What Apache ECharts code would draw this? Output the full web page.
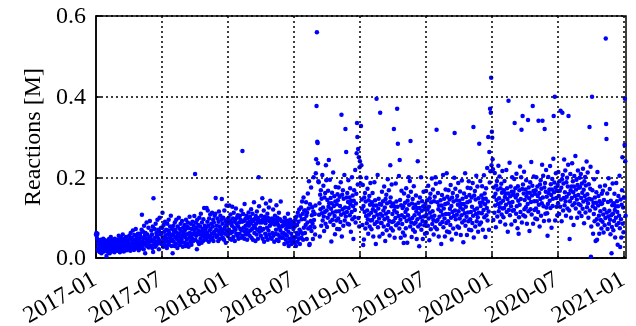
<!DOCTYPE html>
<html><head><meta charset="utf-8">
<script src="https://cdn.jsdelivr.net/npm/echarts@6/dist/echarts.min.js"></script>
<style>html,body{margin:0;padding:0;background:#fff}#c{width:636px;height:326px}</style>
</head><body><div id="c"></div>
<script>
// Daily reactions (thousands), starting 2017-01-01, one value per day
const startDate = '2017-01-01';
const y2017 = [
58,62,55,48,60,22,35,18,42,28,15,38,25,45,30,12,33,40,20,27,48,31,16,36,24,44,29,19,37,5,34,
26,41,15,33,22,47,30,12,38,25,52,19,35,28,44,17,31,40,23,36,14,48,27,33,20,42,30,24,
35,18,46,28,55,22,39,14,42,31,25,50,20,37,29,58,24,43,16,34,47,27,38,21,52,30,19,44,33,26,41,
40,22,55,31,47,18,62,35,28,50,24,44,68,30,38,20,57,33,46,26,72,36,25,52,41,29,60,34,19,48,
45,28,60,36,52,24,70,107,40,31,65,48,22,80,38,55,12,62,33,47,88,29,58,42,35,75,26,50,40,92,44,
52,30,68,41,58,25,78,15,148,45,35,72,50,28,85,40,62,33,55,95,38,70,47,22,65,100,42,58,36,75,
60,35,75,112,50,28,82,45,65,38,90,55,30,70,48,25,85,58,40,68,95,33,62,50,78,42,105,55,30,72,46,
12,58,80,40,65,30,88,52,70,35,95,48,62,25,78,55,42,100,60,32,72,50,85,38,66,45,92,55,28,75,58,
65,38,82,52,70,30,95,58,45,78,35,88,60,28,74,50,102,62,40,85,55,33,72,48,90,58,42,80,62,104,
70,208,45,88,55,75,22,95,62,40,82,68,35,100,58,78,48,110,65,38,88,55,72,42,96,62,124,50,80,70,58,
75,45,124,62,90,118,52,80,40,98,68,55,108,72,46,85,60,112,50,78,95,42,88,65,105,58,110,149,70,52,
80,55,98,68,42,90,115,62,78,48,105,72,58,95,146,65,85,50,100,70,45,118,75,60,92,38,82,130,68,96,55
];
const y2018 = [
85,58,100,70,130,48,92,108,62,88,45,80,127,65,98,52,112,75,90,42,95,70,123,60,85,100,55,106,78,48,102,
88,60,105,72,95,50,118,68,90,265,55,109,75,92,48,134,65,97,80,58,105,70,45,87,99,62,113,80,
90,55,102,68,86,121,50,95,72,110,45,92,80,138,62,97,75,42,104,85,58,115,70,93,48,99,200,128,65,88,75,
92,55,105,68,88,148,48,96,72,118,40,90,102,60,86,135,52,94,75,110,45,99,68,125,58,91,80,142,50,97,
85,48,98,62,88,120,55,92,40,83,105,60,95,70,131,45,89,100,58,82,42,112,75,52,96,68,140,50,91,78,60,
80,50,90,62,82,35,100,58,86,45,72,93,55,80,38,110,65,30,88,48,76,95,42,84,60,35,90,52,78,40,
72,45,85,38,78,95,52,30,102,62,82,40,112,58,90,48,120,70,35,105,65,125,50,96,140,60,110,45,150,75,118,
97,62,118,82,138,105,47,112,88,160,73,123,190,32,35,133,77,92,175,67,106,126,85,47,115,200,94,76,109,58,130,
210,245,377,560,288,285,235,190,188,107,136,53,157,121,168,80,147,111,206,93,125,179,103,67,150,114,161,85,230,193,
118,77,144,100,167,127,243,136,108,194,90,149,122,41,136,162,95,113,212,82,129,153,104,59,140,176,115,93,133,72,158,
143,98,175,116,71,152,129,89,188,107,355,53,157,121,168,80,147,111,206,93,125,320,103,263,150,114,161,85,139,193,
124,83,150,106,173,133,65,142,114,200,96,155,128,47,142,168,101,119,218,88,135,159,260,335,300,182,270,99,250,78,225
];
const y2019 = [
240,200,185,327,230,145,122,82,181,32,129,46,150,114,161,73,140,104,199,86,118,172,96,60,143,107,154,78,132,186,93,
112,71,138,94,161,121,53,130,102,188,84,143,116,35,130,395,89,107,206,76,123,147,98,53,134,360,109,87,
132,87,164,105,60,141,118,78,177,96,125,42,146,110,157,69,136,100,195,82,114,168,92,56,139,230,150,74,128,182,89,
109,68,135,91,320,118,50,127,99,185,81,140,113,370,127,283,86,104,203,73,243,144,95,50,131,167,106,84,124,63,
128,37,160,101,56,137,114,74,173,92,121,38,142,106,153,200,132,96,191,78,290,164,88,52,135,99,146,70,124,178,85,
106,65,132,88,155,115,47,124,96,240,78,137,110,29,124,150,83,101,200,70,117,141,92,47,128,164,103,81,121,60,
134,89,166,107,62,143,120,80,179,98,127,44,148,112,159,71,138,102,197,84,116,170,94,58,141,105,152,76,200,184,91,
318,71,138,94,161,121,53,130,102,188,84,143,116,35,130,156,89,107,206,76,123,147,98,53,134,170,109,87,210,66,152,
136,91,168,109,64,145,122,82,181,100,129,46,150,114,161,73,140,104,199,310,118,172,96,60,143,107,154,78,132,186,
116,75,142,98,165,125,57,134,106,192,88,147,120,39,134,160,93,111,210,80,127,151,102,57,138,174,113,91,190,70,156,
141,96,173,114,69,150,127,87,186,105,325,51,155,119,166,78,145,109,204,91,123,177,101,65,148,112,283,83,137,191,
129,88,155,111,178,138,70,147,119,205,101,160,133,52,147,173,106,124,223,93,140,300,115,70,263,187,370,215,360,447,230
];
const y2020 = [
313,298,245,220,94,175,152,112,211,130,159,76,180,144,191,103,170,134,229,116,148,202,126,90,173,137,184,108,162,216,123,
142,101,168,124,191,151,83,160,132,218,114,173,146,65,160,390,119,137,236,106,153,177,128,83,164,200,139,117,157,
164,119,196,335,92,173,150,110,209,128,157,74,178,142,60,101,168,132,227,114,146,200,318,88,171,352,182,106,160,214,121,
144,103,170,126,193,153,85,162,134,342,116,175,148,67,162,188,121,139,238,108,155,179,377,85,166,202,141,119,159,98,
168,123,200,141,96,177,154,114,340,132,161,78,182,146,193,105,172,136,231,340,150,204,128,92,175,320,186,110,164,218,125,
152,111,55,134,201,161,93,170,142,228,124,183,156,75,170,196,129,147,246,352,163,187,400,93,174,210,149,127,167,106,
181,136,213,154,109,190,167,127,365,145,174,91,195,360,206,118,185,149,244,131,163,217,141,105,188,152,199,123,177,231,352,
159,118,47,141,208,168,100,177,149,235,131,190,163,82,177,203,136,154,253,123,170,194,145,100,181,217,156,134,174,113,199,
176,131,208,149,104,185,162,122,221,140,169,86,190,154,201,113,180,144,239,126,158,212,136,100,183,147,325,118,172,226,
3,78,145,400,168,128,60,137,109,195,91,150,123,42,137,163,96,45,213,83,130,154,105,60,141,177,116,94,134,73,159,
135,90,167,108,63,144,121,81,180,99,544,332,295,113,160,72,139,103,198,85,117,171,95,59,142,106,12,77,131,185,
110,69,136,92,159,119,51,128,100,186,82,141,114,33,128,154,87,105,204,74,27,145,96,51,132,168,250,85,125,64,150
];
const y2021 = [150,280,395,240,105];
const tickLabels = ['2017-01','2017-07','2018-01','2018-07','2019-01','2019-07','2020-01','2020-07','2021-01'];
const yTicks = [0, 0.2, 0.4, 0.6];
const yTitle = 'Reactions [M]';

(function () {
  const DAY = 86400000;
  const t0 = Date.parse(startDate + 'T00:00:00Z');
  const all = y2017.concat(y2018, y2019, y2020, y2021);
  const points = all.map((v, i) => [t0 + i * DAY, v / 1000]);
  const tickVals = tickLabels.map(s => Date.parse(s + '-01T00:00:00Z'));
  const xMin = t0, xMax = Date.parse('2021-01-06T00:00:00Z');

  const FONT = 'Liberation Serif';
  const chart = echarts.init(document.getElementById('c'), null, {renderer: 'canvas'});
  chart.setOption({
    animation: false,
    grid: {left: 96, right: 10, top: 16, bottom: 68, show: true, borderColor: '#000', borderWidth: 1.5, backgroundColor: 'transparent'},
    xAxis: {
      type: 'value', min: xMin, max: xMax,
      axisLine: {show: true, lineStyle: {color: '#000', width: 1.5}},
      axisTick: {show: true, inside: true, length: 5, customValues: tickVals, lineStyle: {color: '#000', width: 1.5}},
      axisLabel: {show: false},
      splitLine: {show: false}
    },
    yAxis: {
      type: 'value', min: 0, max: 0.6, interval: 0.2,
      axisLine: {show: true, lineStyle: {color: '#000', width: 1.5}},
      axisTick: {show: true, inside: true, length: 5, lineStyle: {color: '#000', width: 1.5}},
      axisLabel: {show: false},
      splitLine: {show: true, lineStyle: {color: '#000', type: [2, 3], width: 1.5}}
    },
    series: [{
      type: 'scatter', data: points, symbolSize: 4.5,
      itemStyle: {color: '#0000ff', opacity: 1},
      markLine: {
        silent: true, symbol: 'none', label: {show: false},
        lineStyle: {color: '#000', type: [2, 3], width: 1.5},
        data: tickVals.slice(1).map(v => ({xAxis: v}))
      }
    }]
  });

  // Axis text drawn as ECharts graphic text, placed through the axes' own scales
  const g = [];
  tickVals.forEach((tv, i) => {
    const p = chart.convertToPixel({gridIndex: 0}, [tv, 0]);
    g.push({type: 'text', x: p[0] - 1, y: p[1] + 20, rotation: Math.PI / 6, silent: true,
      style: {text: tickLabels[i], fontFamily: FONT, fontSize: 24, fill: '#000', align: 'right', verticalAlign: 'middle'}});
  });
  yTicks.forEach(v => {
    const p = chart.convertToPixel({gridIndex: 0}, [xMin, v]);
    g.push({type: 'text', x: p[0] - 10, y: p[1] + 1, silent: true,
      style: {text: v.toFixed(1), fontFamily: FONT, fontSize: 24, fill: '#000', align: 'right', verticalAlign: 'middle'}});
  });
  const pTop = chart.convertToPixel({gridIndex: 0}, [xMin, 0.6]);
  const pBot = chart.convertToPixel({gridIndex: 0}, [xMin, 0]);
  g.push({type: 'text', x: pTop[0] - 62, y: (pTop[1] + pBot[1]) / 2, rotation: Math.PI / 2, silent: true,
    style: {text: yTitle, fontFamily: FONT, fontSize: 24, fill: '#000', align: 'center', verticalAlign: 'middle'}});
  chart.setOption({graphic: g});
})();
</script></body></html>
